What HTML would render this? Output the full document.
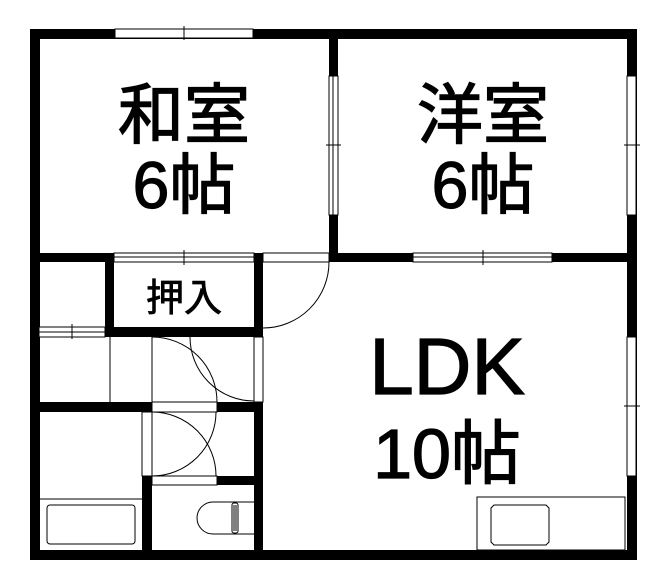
<!DOCTYPE html>
<html><head><meta charset="utf-8"><style>html,body{margin:0;padding:0;background:#fff}svg{display:block}</style></head>
<body>
<svg width="669" height="582" viewBox="0 0 669 582" xmlns="http://www.w3.org/2000/svg">
<rect width="669" height="582" fill="#fff"/>
<g fill="#000">
<rect x="30" y="29" width="607" height="10"/>
<rect x="30" y="29" width="10" height="531"/>
<rect x="627" y="29" width="10" height="531"/>
<rect x="30" y="550" width="607" height="10"/>
<rect x="329" y="29" width="9" height="233"/>
<rect x="30" y="253" width="607" height="9"/>
<rect x="105" y="253" width="9" height="84"/>
<rect x="254" y="253" width="9" height="84"/>
<rect x="105" y="327" width="158" height="10"/>
<rect x="30" y="402" width="122" height="10"/>
<rect x="217" y="402" width="46" height="10"/>
<rect x="254" y="402" width="9" height="158"/>
<rect x="142" y="476" width="10" height="84"/>
<rect x="217" y="476" width="46" height="9"/>
<rect x="142" y="476" width="10" height="9"/>
</g>
<g fill="#fff" stroke="#000" stroke-width="1">
<rect x="115" y="29" width="138" height="9"/>
<rect x="329" y="76" width="9" height="139"/>
<rect x="627" y="76" width="9" height="139"/>
<rect x="627" y="337" width="9" height="139"/>
<rect x="114" y="253" width="140" height="9"/>
<rect x="413" y="253" width="139" height="9"/>
<rect x="263" y="253" width="66" height="9"/>
<rect x="39" y="327" width="66" height="10"/>
<rect x="152" y="402" width="65" height="10"/>
<rect x="152" y="476" width="65" height="9"/>
<rect x="142" y="412" width="10" height="64"/>
<rect x="254" y="337" width="9" height="65"/>
</g>
<g stroke="#000" stroke-width="1" fill="none">
<line x1="184" y1="26" x2="184" y2="40"/>
<line x1="326" y1="145" x2="341" y2="145"/>
<line x1="624" y1="145" x2="640" y2="145"/>
<line x1="624" y1="406" x2="640" y2="406"/>
<line x1="184" y1="250" x2="184" y2="265"/>
<line x1="483" y1="250" x2="483" y2="265"/>
<line x1="72" y1="324" x2="72" y2="339"/>
<line x1="114" y1="257" x2="254" y2="257"/>
<line x1="413" y1="257" x2="552" y2="257"/>
<line x1="39" y1="332" x2="105" y2="332"/>
<line x1="333" y1="76" x2="333" y2="215"/>
<line x1="110" y1="337" x2="110" y2="402"/>
<line x1="152" y1="337" x2="152" y2="402"/>
<path d="M329 262 A66 66 0 0 1 263 328"/>
<path d="M152 337 A65 65 0 0 1 217 402"/>
<path d="M190 337 A64 64 0 0 0 254 401"/>
<path d="M152 412 A64 64 0 0 1 216 476"/>
<path d="M216 412 A64 64 0 0 1 152 476"/>
<line x1="39" y1="499" x2="142" y2="499"/>
<rect x="47" y="505" width="88" height="39" rx="3"/>
<path d="M254 502 L213 502 A16 16 0 0 0 213 534 L254 534"/>
<rect x="232" y="503" width="6" height="30" rx="2"/>
<line x1="234" y1="505" x2="234" y2="531"/>
<line x1="236" y1="505" x2="236" y2="531"/>
<rect x="477" y="497" width="148" height="53"/>
<path d="M494 505 L546 505 L549 508 L549 542 L546 545 L494 545 L491 542 L491 508 Z"/>
</g>
<g font-family="Liberation Sans, Noto Sans CJK JP, sans-serif" fill="#000" stroke="#000" stroke-width="1.3" text-anchor="middle">
<text x="184" y="138" font-size="66">和室</text>
<text x="184" y="208" font-size="66">6帖</text>
<text x="483" y="138" font-size="66">洋室</text>
<text x="483" y="208" font-size="66">6帖</text>
<text x="184" y="311" font-size="38" stroke-width="0.8">押入</text>
<text x="447" y="394" font-size="80">LDK</text>
<text x="447" y="478" font-size="70">10帖</text>
</g>
</svg>
</body></html>
